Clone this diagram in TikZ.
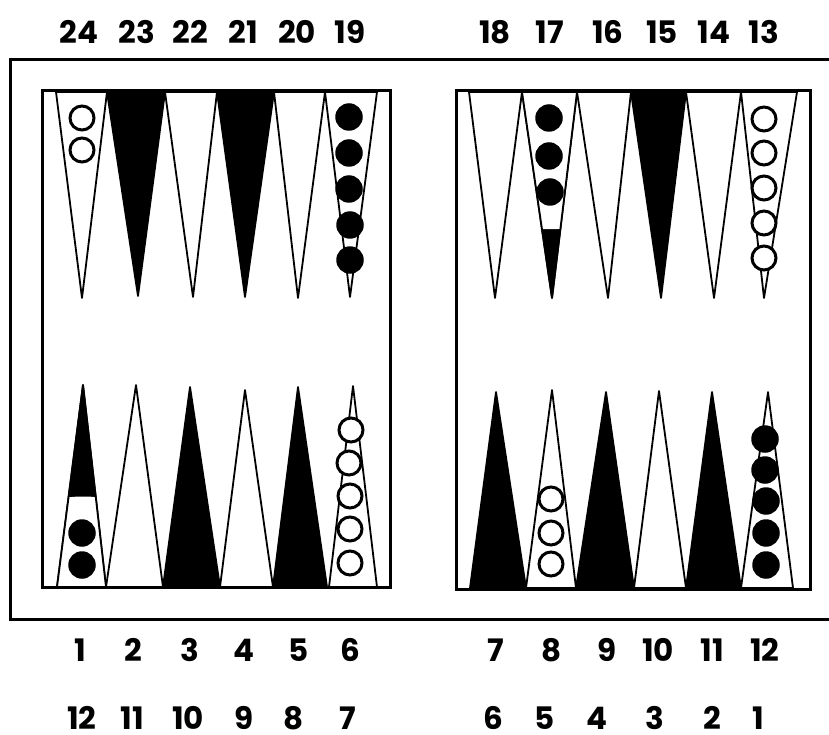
\documentclass[tikz,border=0pt]{standalone}
\usepackage{fontspec}
\setmainfont{Poppins}
\begin{document}
\begin{tikzpicture}[x=1pt,y=-1pt,
  frame/.style={draw=black,line width=3pt,line join=miter},
  pt/.style={draw=black,line width=1.8pt,line join=round},
  wpt/.style={pt,fill=white},
  bpt/.style={pt,fill=black},
  wchk/.style={circle,draw=black,fill=white,line width=3pt,minimum size=24pt,inner sep=0pt},
  bchk/.style={circle,fill=black,minimum size=27.5pt,inner sep=0pt},
  lab/.style={inner sep=0pt,font=\fontsize{31}{31}\selectfont\bfseries}]
\clip (0,0) rectangle (829,735);
\fill[white] (0,0) rectangle (829,735);
% outer frame and boards
\draw[frame] (10,60) rectangle (850,619);
\draw[frame] (42,91) rectangle (390,587);
\draw[frame] (456,91) rectangle (810,589);
% top-left points
\filldraw[wpt] (56,92) -- (107,92) -- (82,298) -- cycle;
\filldraw[bpt] (107,92) -- (165,92) -- (138,296) -- cycle;
\filldraw[wpt] (165,92) -- (217,92) -- (193,297) -- cycle;
\filldraw[bpt] (217,92) -- (274,92) -- (245,297) -- cycle;
\filldraw[wpt] (274,92) -- (325,92) -- (298,298) -- cycle;
\filldraw[wpt] (325,92) -- (377,92) -- (350,297) -- cycle;
% top-right points
\filldraw[wpt] (469,92) -- (522,92) -- (495,298) -- cycle;
\filldraw[bpt] (522,92) -- (577,92) -- (552,298) -- cycle;
\begin{scope}
  \clip (522,92) -- (577,92) -- (552,298) -- cycle;
  \fill[white] (515,80) -- (515,224) .. controls (535,231) and (565,231) .. (585,224) -- (585,80) -- cycle;
\end{scope}
\draw[pt] (522,92) -- (577,92) -- (552,298) -- cycle;
\filldraw[wpt] (577,92) -- (631,92) -- (608,298) -- cycle;
\filldraw[bpt] (631,92) -- (686,92) -- (661,298) -- cycle;
\filldraw[wpt] (686,92) -- (741,92) -- (714,298) -- cycle;
\filldraw[wpt] (741,92) -- (797,92) -- (764,298) -- cycle;
% bottom-left points
\filldraw[bpt] (57,587) -- (106,587) -- (83,385) -- cycle;
\begin{scope}
  \clip (57,587) -- (106,587) -- (83,385) -- cycle;
  \fill[white] (50,600) -- (50,501) .. controls (70,495) and (96,495) .. (116,501) -- (116,600) -- cycle;
\end{scope}
\draw[pt] (57,587) -- (106,587) -- (83,385) -- cycle;
\filldraw[wpt] (106,587) -- (163,587) -- (136,385) -- cycle;
\filldraw[bpt] (163,587) -- (220,587) -- (190,387) -- cycle;
\filldraw[wpt] (220,587) -- (273,587) -- (245,390) -- cycle;
\filldraw[bpt] (273,587) -- (327,587) -- (298,387) -- cycle;
\filldraw[wpt] (329,587) -- (377,587) -- (353,386) -- cycle;
% bottom-right points
\filldraw[bpt] (470,588) -- (526,588) -- (496,392) -- cycle;
\filldraw[wpt] (526,588) -- (576,588) -- (552,390) -- cycle;
\filldraw[bpt] (576,588) -- (634,588) -- (606,392) -- cycle;
\filldraw[wpt] (634,588) -- (686,588) -- (659,391) -- cycle;
\filldraw[bpt] (686,588) -- (741,588) -- (712,392) -- cycle;
\filldraw[wpt] (741,588) -- (793,588) -- (768,392) -- cycle;
% checkers
\node[wchk] (p24a) at (82,118) {};
\node[wchk] (p24b) at (82,150) {};
\node[bchk] (p19a) at (349,117) {};
\node[bchk] (p19b) at (349,153) {};
\node[bchk] (p19c) at (349,189) {};
\node[bchk] (p19d) at (350,225) {};
\node[bchk] (p19e) at (350,260) {};
\node[bchk] (p17a) at (549,118) {};
\node[bchk] (p17b) at (549,156) {};
\node[bchk] (p17c) at (550,192) {};
\node[wchk] (p13a) at (764,119) {};
\node[wchk] (p13b) at (764,153) {};
\node[wchk] (p13c) at (764,188) {};
\node[wchk] (p13d) at (764,223) {};
\node[wchk] (p13e) at (764,258) {};
\node[bchk] (p1a) at (82,533) {};
\node[bchk] (p1b) at (82,565) {};
\node[wchk] (p6a) at (351,430) {};
\node[wchk] (p6b) at (349,463) {};
\node[wchk] (p6c) at (350,496) {};
\node[wchk] (p6d) at (350,529) {};
\node[wchk] (p6e) at (350,563) {};
\node[wchk] (p8a) at (551,499) {};
\node[wchk] (p8b) at (551,533) {};
\node[wchk] (p8c) at (551,564) {};
\node[bchk] (p12a) at (765,439) {};
\node[bchk] (p12b) at (765,470) {};
\node[bchk] (p12c) at (766,501) {};
\node[bchk] (p12d) at (766,533) {};
\node[bchk] (p12e) at (766,565) {};
% top labels
\node[lab] (t24) at (79,32) {24};
\node[lab] (t23) at (137,32) {23};
\node[lab] (t22) at (190,32) {22};
\node[lab] (t21) at (243,32) {21};
\node[lab] (t20) at (297,32) {20};
\node[lab] (t19) at (350,32) {19};
\node[lab] (t18) at (495,32) {18};
\node[lab] (t17) at (550,32) {17};
\node[lab] (t16) at (608,32) {16};
\node[lab] (t15) at (662,32) {15};
\node[lab] (t14) at (714,32) {14};
\node[lab] (t13) at (764,32) {13};
% bottom labels row 1
\node[lab] (b1) at (80,650) {1};
\node[lab] (b2) at (133,650) {2};
\node[lab] (b3) at (190,650) {3};
\node[lab] (b4) at (244,650) {4};
\node[lab] (b5) at (299,650) {5};
\node[lab] (b6) at (350,650) {6};
\node[lab] (b7) at (496,650) {7};
\node[lab] (b8) at (552,650) {8};
\node[lab] (b9) at (607,650) {9};
\node[lab] (b10) at (658,650) {10};
\node[lab] (b11) at (712,650) {11};
\node[lab] (b12) at (765,650) {12};
% bottom labels row 2
\node[lab] (r12) at (82,718) {12};
\node[lab] (r11) at (132,718) {11};
\node[lab] (r10) at (188,718) {10};
\node[lab] (r9) at (244,718) {9};
\node[lab] (r8) at (294,718) {8};
\node[lab] (r7) at (348,718) {7};
\node[lab] (r6) at (493,718) {6};
\node[lab] (r5) at (545,718) {5};
\node[lab] (r4) at (597,718) {4};
\node[lab] (r3) at (655,718) {3};
\node[lab] (r2) at (712,718) {2};
\node[lab] (r1) at (758,718) {1};
\end{tikzpicture}
\end{document}
